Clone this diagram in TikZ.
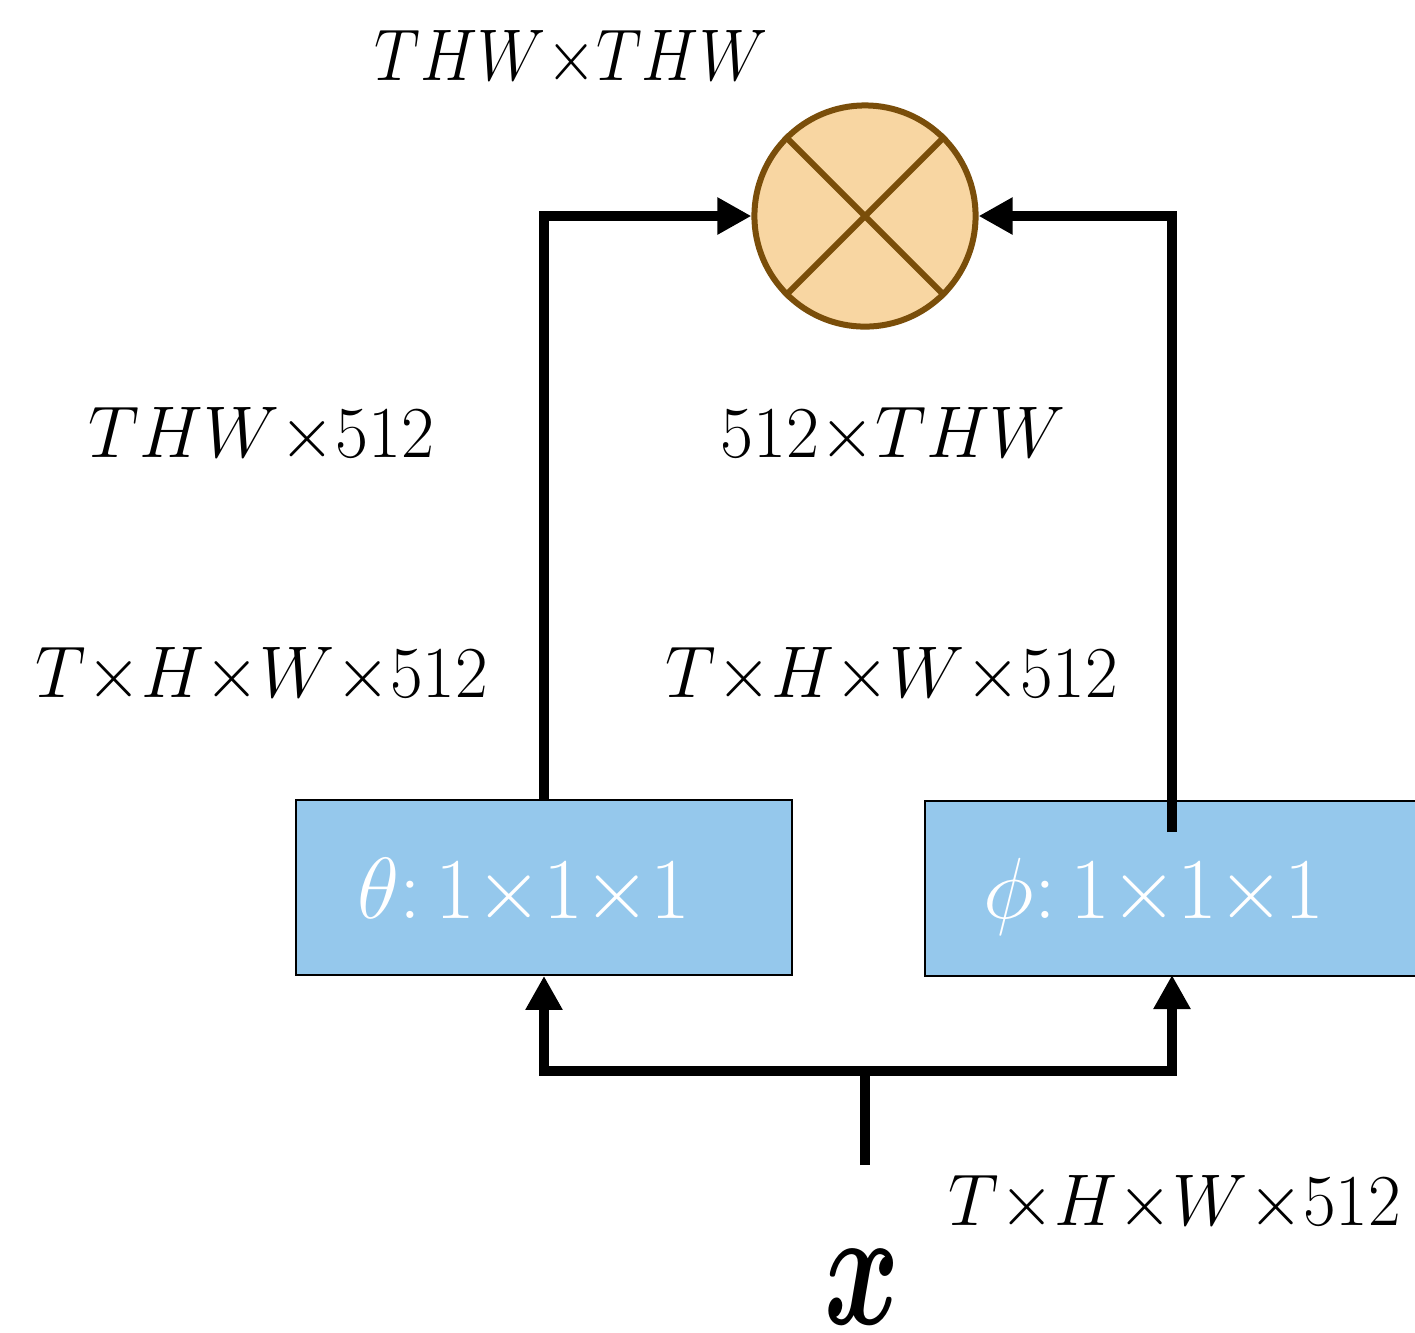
\documentclass[tikz,border=0pt]{standalone}
\usepackage{fix-cm}
\usepackage{bm}
\usepackage{graphicx}
\usetikzlibrary{arrows.meta,calc}

\definecolor{boxblue}{RGB}{149,200,236}
\definecolor{mulfill}{RGB}{248,214,162}
\definecolor{mulline}{RGB}{122,78,10}

\tikzset{
  flow/.style={line width=2.7pt, draw=black},
  arr/.style={flow, -{Triangle[length=8.5pt,width=8.75pt]}},
  convbox/.style={draw=black, line width=0.45pt, fill=boxblue, rectangle,
                  inner sep=0pt, minimum height=43.75pt},
  convtext/.style={text=white, inner sep=0pt, anchor=base west,
                   font=\fontsize{21.7}{26}\selectfont},
  dimlabel/.style={inner sep=0pt, anchor=base west,
                   font=\fontsize{18.3}{22}\selectfont},
  mulnode/.style={circle, draw=mulline, fill=mulfill, line width=1.5pt,
                  minimum size=55.3pt, inner sep=0pt},
}

\begin{document}
\begin{tikzpicture}[x=0.25pt, y=-0.25pt]
  \useasboundingbox (0,0) rectangle (1415,1332);

  % matrix product node
  \node[mulnode] (mul) at (865,216) {};
  \draw[mulline, line width=1.5pt] (mul.45) -- (mul.225);
  \draw[mulline, line width=1.5pt] (mul.135) -- (mul.-45);

  % the two 1x1x1 convolutions
  \node[convbox, minimum width=124pt] (theta) at (544,887.5) {};
  \node[convbox, minimum width=126.5pt, anchor=north west] (phi) at (924,800) {};
  \node[convtext] (thetatext) at (357,918) {$\theta{:}\,1{\times}1{\times}1$};
  \node[convtext] (phitext) at (983,918) {$\phi{:}\,1{\times}1{\times}1$};

  % connection points
  \coordinate (phiout) at (1172,832);
  \coordinate (phiin) at (1172,975);
  \coordinate (split) at (865,1071);
  \coordinate (xin) at (865,1165);

  % input x
  \node[inner sep=0pt, anchor=north] (xvar) at (862,1249)
    {\fontsize{42}{48}\selectfont\scalebox{0.68}[1]{$\bm{x}$}};

  % connectors
  \draw[flow] (xin) -- (split);
  \draw[arr] (split) -| (theta.south);
  \draw[arr] (split) -| (phiin);
  \draw[arr] (theta.north) |- (mul.west);
  \draw[arr] (phiout) |- (mul.east);

  % dimension labels
  \node[dimlabel] (ltop) at (374,80) {\scalebox{0.88}[1]{$THW{\times}THW$}};
  \node[dimlabel] (lthetaflat) at (88,457) {\scalebox{0.98}[1]{$THW{\times}512$}};
  \node[dimlabel] (lphiflat) at (720,457) {\scalebox{0.98}[1]{$512{\times}THW$}};
  \node[dimlabel] (lthetain) at (35,697) {\scalebox{0.97}[1]{$T{\times}H{\times}W{\times}512$}};
  \node[dimlabel] (lphiin) at (665,697) {\scalebox{0.97}[1]{$T{\times}H{\times}W{\times}512$}};
  \node[dimlabel] (lxin) at (948,1225) {\scalebox{0.97}[1]{$T{\times}H{\times}W{\times}512$}};
\end{tikzpicture}
\end{document}
